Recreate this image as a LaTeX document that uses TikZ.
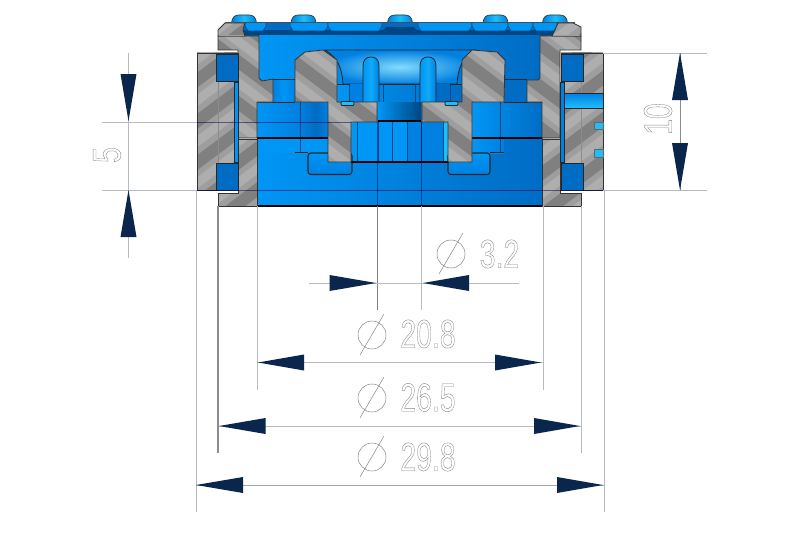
\documentclass[tikz,border=0pt]{standalone}
\usepackage{fontspec}
\setmainfont{Liberation Sans}
\definecolor{cutbase}{RGB}{158,158,158}
\definecolor{cutdark}{RGB}{128,128,128}
\definecolor{cutlite}{RGB}{174,174,174}
\definecolor{bluemid}{RGB}{0,128,225}
\definecolor{bluebright}{RGB}{0,150,245}
\definecolor{bluecyan}{RGB}{30,190,250}
\definecolor{bluedeep}{RGB}{0,108,196}
\definecolor{bluedark}{RGB}{0,70,130}
\definecolor{dimline}{RGB}{182,186,194}
\definecolor{tipcol}{RGB}{10,38,76}
\definecolor{txtcol}{RGB}{135,135,135}
\tikzset{
  cutedge/.style={draw=black!80,line width=0.8pt},
  edge/.style={draw=black!85,line width=0.8pt},
  thick edge/.style={draw=black,line width=1.7pt},
  thin edge/.style={draw=bluedark,line width=0.6pt},
  dimthin/.style={draw=dimline,line width=0.9pt},
  ext/.style={draw=dimline,line width=0.9pt},
  overblue/.style={draw=black!70!blue,draw opacity=0.5,line width=0.8pt},
  dimtip/.style={fill=tipcol},
  dimtext/.style={inner sep=0pt,text=txtcol,font=\fontsize{40}{40}\selectfont,xscale=0.71,transform shape},
  phi/.style={draw=txtcol,line width=0.5pt}
}
\newcommand\hatchpiece[3]{%
  \begin{scope}
    \clip #1;
    \fill[cutbase] (150,0) rectangle (650,230);
    \foreach \k in {-3,...,17}{
      \draw[cutdark,line width=12pt] ({#3+55*\k},0) -- ({#3+55*\k+#2*280},210);
      \draw[cutlite,line width=9pt] ({#3+27+55*\k},0) -- ({#3+27+55*\k+#2*280},210);
    }
  \end{scope}
  \draw[cutedge] #1;}
\newcommand\hhead[3]{\fill[dimtip] (#1,#2) -- (#3,#2-8) -- (#3,#2+8) -- cycle;}
\newcommand\vhead[3]{\fill[dimtip] (#2,#1) -- (#2-8,#3) -- (#2+8,#3) -- cycle;}
\newcommand\phimark[2]{\draw[phi] (#1,#2) circle (14);\draw[phi] (#1-12,#2+20) -- (#1+12,#2-21);}
\newcommand\outlined[1]{\special{pdf:code 1 Tr 0.42 w}#1\special{pdf:code 0 Tr}}
\newcommand\screw[1]{%
  \path[draw=black!80,line width=0.7pt,left color=bluemid,right color=bluemid,middle color=bluecyan]
   (#1-12.5,23) .. controls (#1-12,17) and (#1-9,15) .. (#1-5,15) -- (#1+5,15) .. controls (#1+9,15) and (#1+12,17) .. (#1+12.5,23) -- cycle;}
\begin{document}
\begin{tikzpicture}[x=1pt,y=-1pt]
\useasboundingbox (0,0) rectangle (800,535);
\fill[white] (0,0) rectangle (800,535);
% screws
\screw{244}\screw{303.5}\screw{400}\screw{495.5}\screw{555}
% interior base
\fill[left color=bluebright,right color=bluedeep] (257,36) rectangle (543,206);
% top plate
\fill[bluedeep] (240,23) rectangle (560,31);
\fill[bluedark] (240,30.5) rectangle (560,36);
\fill[bluedark] (382,32) -- (386,27) -- (414,27) -- (418,32) -- cycle;
\foreach \a/\b in {245/266,290/328,328/382,418/472,472/508,508/533,533/557}{
  \fill[bluebright] (\a,23) -- (\b,23) -- (\b,26) -- (\b-3,31) -- (\a+3,31) -- (\a,26) -- cycle;
  \draw[thin edge] (\a,23) -- (\a,26) -- (\a+3,31) -- (\b-3,31) -- (\b,26) -- (\b,23);
}
\draw[draw=black!70,line width=0.9pt] (225,22.8) -- (575,22.8);
\draw[edge] (240,36) -- (560,36);
% upper band and side pockets
\fill[left color=bluebright,right color=bluedeep] (259,36) rectangle (540,102);
\fill[left color=bluemid,right color=bluemid,middle color=bluebright] (273,79) rectangle (295,102);
\fill[bluedeep] (505,79) rectangle (527,102);
\draw[edge] (273,79) -- (295,79) (505,79) -- (527,79);
% cavity
\path[inner color=bluecyan!55!white,outer color=bluemid,edge]
 (325,50) -- (475,50) .. controls (462,58) and (458,68) .. (457,84) -- (343,84) .. controls (342,68) and (338,58) .. (325,50) -- cycle;
\fill[left color=bluebright,right color=bluedeep] (337,84) rectangle (462,102);
\draw[edge] (337,84) -- (462,84);
\fill[bluedeep] (436,84) rectangle (450,102);
\fill[bluemid] (349,84) rectangle (363,102);
\foreach \p in {349,383,415,450}{\draw[thin edge] (\p,84) -- (\p,102);}
% posts
\foreach \p in {363,420}{
  \path[left color=bluebright,right color=bluemid,middle color=bluecyan!50!bluebright,edge]
   (\p,102) -- (\p,66) .. controls (\p,60) and (\p+3,57) .. (\p+8,57) .. controls (\p+13,57) and (\p+16,60) .. (\p+16,66) -- (\p+16,102);
}
% neck
\fill[left color=bluebright,middle color=bluebright,right color=bluedark] (378,102) rectangle (421,120);
\draw[thick edge] (378,121) -- (421,121);
% central hole
\fill[bluebright] (351,122) rectangle (449,162);
\fill[bluemid] (407,122) rectangle (443,162);
\fill[bluecyan] (443,122) rectangle (449,162);
\foreach \p in {357,378,392,407,421,443}{\draw[thin edge] (\p,122) -- (\p,162);}
% mid sections
\fill[left color=bluebright,right color=bluemid] (257,102) rectangle (300,137);
\fill[left color=bluemid,right color=bluedeep] (300,102) rectangle (316,137);
\fill[left color=bluedeep,right color=bluemid] (316,102) rectangle (328,137);
\fill[left color=bluebright,right color=bluedeep] (472,102) rectangle (542,137);
\fill[bluebright] (257,139) rectangle (328,153);
\fill[left color=bluebright,right color=bluemid] (472,139) rectangle (504,153);
\draw[thin edge] (300,102) -- (300,153) (500,102) -- (500,153);
\draw[edge] (257,102) -- (295,102) (504,102) -- (542,102);
% lower pockets
\path[top color=bluebright,bottom color=bluemid,edge,rounded corners=3pt,line width=1.1pt] (308,153) rectangle (352,174.5);
\path[top color=bluebright,bottom color=bluemid,edge,rounded corners=3pt,line width=1.1pt] (448,153) rectangle (490,174.5);
\draw[edge] (295,152.5) -- (308,152.5) (490,152.5) -- (504,152.5);
% lower lines
\draw[thick edge] (351,162) -- (449,162);
\draw[thick edge] (257,137.8) -- (328,137.8) (472,137.8) -- (542,137.8);
\draw[draw=black,line width=1.4pt] (230,205.8) -- (570,205.8);
% gray: centre
\hatchpiece{(295,60) -- (305,52) -- (323,50) -- (337,60) -- (337,102) -- (377,102) -- (377,122) -- (351,122) -- (351,162) -- (328,162) -- (328,102) -- (295,102) -- cycle}{1}{47}
\hatchpiece{(505,60) -- (497,52) -- (472,50) -- (462,60) -- (462,102) -- (422,102) -- (422,122) -- (448,122) -- (448,162) -- (472,162) -- (472,102) -- (504,102) -- cycle}{1}{53}
% small bumps
\foreach \a in {341,445}{\path[fill=bluecyan,edge,rounded corners=1pt] (\a,101.5) rectangle (\a+13,105.5);}
% gray: outer body
\hatchpiece{(245,36) -- (259,36) -- (259,78) -- (262,81) -- (273,79) -- (273,102) -- (257,102) -- (257,138) -- (238,138) -- (238,50) -- (218,50) -- (218,36) -- cycle}{1}{46}
\hatchpiece{(218,36) -- (218,30) -- (225,23) -- (245,23) -- (243,30) -- (245,36) -- cycle}{-1}{10}
\hatchpiece{(540,36) -- (540,78) -- (538,80) -- (527,80) -- (527,102) -- (542,102) -- (542,138) -- (560,138) -- (560,50) -- (581,50) -- (581,36) -- cycle}{1}{40}
\hatchpiece{(581,36) -- (581,27) -- (573,23) -- (558,23) -- (555,30) -- (552,36) -- cycle}{-1}{30}
\draw[cutbase,line width=1pt] (219,36) -- (244,36) (553,36) -- (580,36);
\hatchpiece{(238,139) -- (257,139) -- (257,206) -- (218,206) -- (218,193) -- (238,193) -- cycle}{-1}{15}
\hatchpiece{(542,139) -- (560,139) -- (560,193) -- (581,193) -- (581,206) -- (542,206) -- cycle}{-1}{3}
% sleeves
\hatchpiece{(197,53) -- (238,53) -- (238,190) -- (197,190) -- cycle}{-1}{29}
\hatchpiece{(561,53) -- (603,53) -- (603,190) -- (561,190) -- cycle}{-1}{47}
\draw[draw=black!45,line width=0.6pt] (218,81) -- (218,163) (581,81) -- (581,163);
\path[fill=bluedeep,edge] (216,54) rectangle (238,81);
\path[fill=bluedeep,edge] (216,163) rectangle (238,190);
\path[fill=bluedeep,edge] (561,54) rectangle (583,81);
\path[fill=bluedeep,edge] (561,163) rectangle (583,190);
\path[fill=bluebright,edge] (234.5,82) rectangle (238,162);
\path[fill=bluemid,edge] (560.5,82) rectangle (564,162);
\path[top color=bluemid,bottom color=bluecyan,edge] (564,93) rectangle (603,108);
\path[fill=bluecyan,draw=black!60,line width=0.5pt] (594,122) rectangle (603,129);
\path[fill=bluecyan,draw=black!60,line width=0.5pt] (594,149) rectangle (603,157);
% extension lines
\draw[ext] (603,53) -- (707,53);
\draw[ext] (102,190) -- (197,190) (603,190) -- (707,190);
\draw[overblue] (197,190) -- (603,190);
\draw[ext] (102,122) -- (197,122);
\draw[overblue] (197,122) -- (351,122);
\draw[ext] (196,190) -- (196,512);
\draw[ext] (604,190) -- (604,512);
\draw[draw=black!45,line width=1.2pt] (218,206) -- (218,453);
\draw[ext] (581,206) -- (581,453);
\draw[ext] (257,206) -- (257,390);
\draw[ext] (543,206) -- (543,390);
\draw[overblue] (377,122) -- (377,206) (421,122) -- (421,206);
\draw[draw=black!50,line width=1pt] (377,206) -- (377,310);
\draw[ext] (421,206) -- (421,310);
% dimension lines
\draw[dimthin] (128.5,53) -- (128.5,258);
\draw[dimthin,draw=black!45] (680,53) -- (680,190);
\draw[dimthin] (309,283) -- (519,283);
\draw[dimthin] (257,362.5) -- (543,362.5);
\draw[dimthin] (219,426) -- (581,426);
\draw[dimthin,draw=black!35] (196,485) -- (604,485);
\vhead{121}{128.5}{74}
\vhead{190}{128.5}{237}
\vhead{53}{680}{100}
\vhead{190}{680}{143}
\hhead{376}{283}{329.5}
\hhead{423}{283}{469}
\hhead{258}{362.5}{304}
\hhead{541}{362.5}{495}
\hhead{219}{426}{265.5}
\hhead{580}{426}{534}
\hhead{196}{485}{243}
\hhead{603}{485}{557}
% labels
\phimark{451}{254}
\phimark{372}{335}
\phimark{372}{398}
\phimark{372}{457}
\node[dimtext] (t32) at (499.5,254) {\outlined{3.2}};
\node[dimtext] (t208) at (428,334) {\outlined{20.8}};
\node[dimtext] (t265) at (428,397.5) {\outlined{26.5}};
\node[dimtext] (t298) at (428,457) {\outlined{29.8}};
\node[rotate=90,dimtext] (t5) at (107,155) {\outlined{5}};
\node[rotate=90,dimtext] (t10) at (658,119) {\outlined{10}};
\end{tikzpicture}
\end{document}
